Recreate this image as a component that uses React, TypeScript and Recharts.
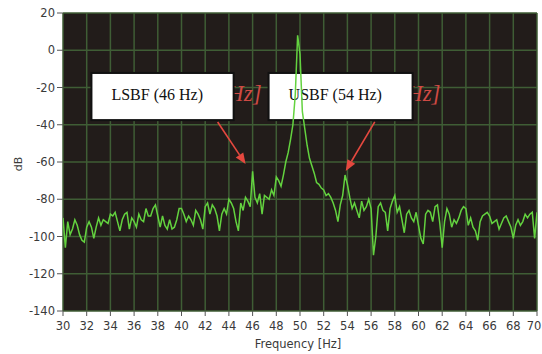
import React from 'react';
import { LineChart, Line, XAxis, YAxis, CartesianGrid, ReferenceArea, ReferenceLine } from 'recharts';

// Spectrum sampled every 0.2 Hz from 30 Hz to 70 Hz (dB)
const freqStart = 30;
const freqStep = 0.2;
const amplitudeDb = [
  -90, -106, -92, -99, -96, -91, -94, -99, -102, -103,
  -95, -92, -95, -101, -95, -90, -94, -91, -92, -93,
  -88, -89, -87, -92, -97, -91, -88, -87, -96, -90,
  -92, -95, -88, -91, -92, -85, -89, -89, -85, -83,
  -89, -95, -89, -94, -96, -91, -96, -95, -91, -85,
  -85, -88, -92, -89, -91, -94, -86, -88, -91, -96,
  -84, -82, -88, -83, -85, -89, -97, -88, -85, -88,
  -80, -82, -85, -92, -97, -82, -86, -79, -81, -84,
  -65, -79, -82, -77, -88, -78, -79, -80, -75, -78,
  -68, -70, -73, -67, -60, -55, -48, -40, -24, 8,
  -2, -33, -42, -51, -58, -62, -66, -71, -72, -74,
  -75, -78, -77, -79, -82, -86, -92, -83, -78, -67,
  -72, -79, -85, -82, -86, -90, -81, -86, -84, -80,
  -85, -110, -100, -84, -82, -86, -87, -97, -85, -81,
  -78, -87, -84, -91, -98, -88, -86, -90, -92, -87,
  -94, -101, -104, -88, -86, -87, -92, -84, -83, -93,
  -106, -92, -85, -88, -95, -91, -93, -90, -86, -84,
  -85, -94, -90, -95, -97, -102, -92, -89, -88, -87,
  -89, -93, -92, -91, -96, -93, -90, -89, -92, -95,
  -101, -94, -91, -94, -92, -88, -90, -88, -87, -101,
  -87,
];

const xTicks = [30, 32, 34, 36, 38, 40, 42, 44, 46, 48, 50, 52, 54, 56, 58, 60, 62, 64, 66, 68, 70];
const yTicks = [-140, -120, -100, -80, -60, -40, -20, 0, 20];

const boxLabels = ['LSBF (46 Hz)', 'USBF (54 Hz)'];
const boxFreqRanges = [[32.4, 44.4], [47.35, 59.5]];
const boxDbRange = [-37.5, -12.2];
const arrowStarts = [[43.05, -38.5], [56.31, -38.5]];
const arrowEnds = [[45.41, -61.1], [53.86, -64.8]];

const data = amplitudeDb.map((v, i) => ({ f: +(freqStart + i * freqStep).toFixed(1), db: v }));

const tickStyle = { fill: '#3a3a3a', fontSize: 11.5, fontFamily: 'DejaVu Sans' };

const XTick = (p: any) => {
  const { x, y, payload } = p;
  const tx = Math.min(x, 534);
  return (
    <text x={tx} y={y} dy="0.71em" textAnchor="middle" fill="#3a3a3a" fontSize={11.5} fontFamily="DejaVu Sans">
      {payload.value}
    </text>
  );
};

const Arrow = (p: any) => {
  const { x1, y1, x2, y2 } = p;
  const ang = Math.atan2(y2 - y1, x2 - x1);
  const len = 11;
  const hw = 4.5;
  const bx = x2 - len * Math.cos(ang);
  const by = y2 - len * Math.sin(ang);
  const px = -Math.sin(ang) * hw;
  const py = Math.cos(ang) * hw;
  return (
    <g>
      <line x1={x1} y1={y1} x2={bx} y2={by} stroke="#e5483f" strokeWidth={1.6} />
      <polygon points={`${x2},${y2} ${bx + px},${by + py} ${bx - px},${by - py}`} fill="#e5483f" />
    </g>
  );
};

const makeBox = (label: string) => (p: any) => {
  const { x, y, width, height } = p;
  return (
    <g>
      <text x={x + width + 28} y={y + 28} textAnchor="end" fill="#cf4a44" fontFamily="Liberation Serif" fontStyle="italic" fontSize={23}>Hz]</text>
      <rect x={x} y={y} width={width} height={height} fill="#ffffff" stroke="#111111" strokeWidth={2} />
      <text x={x + 20} y={y + 27} fill="#111111" fontFamily="Liberation Serif" fontSize={16}>{label}</text>
    </g>
  );
};

export default function App() {
  return (
    <div style={{ position: 'absolute', left: 0, top: 0, width: 542, height: 354, background: '#ffffff' }}>
      <LineChart width={542} height={354} data={data} margin={{ top: 13, right: 5, left: 18, bottom: 0 }}>
        <CartesianGrid stroke="#3f5d35" strokeWidth={1.5} fill="#221c1a" fillOpacity={1} />
        <XAxis
          dataKey="f"
          type="number"
          domain={[30, 70]}
          ticks={xTicks}
          interval={0}
          height={43}
          tickSize={5}
          tickMargin={6}
          axisLine={false}
          tickLine={{ stroke: '#555555' }}
          tick={<XTick />}
          allowDataOverflow
          label={{
            content: (props: any) => {
              const vb = props.viewBox;
              return (
                <text x={vb.x + vb.width / 2 - 2} y={vb.y + 37} textAnchor="middle" fill="#3a3a3a" fontSize={11.5} fontFamily="DejaVu Sans">
                  Frequency [Hz]
                </text>
              );
            },
          }}
        />
        <YAxis
          type="number"
          domain={[-140, 20]}
          ticks={yTicks}
          interval={0}
          width={45}
          tickSize={6}
          tickMargin={2}
          axisLine={false}
          tickLine={{ stroke: '#555555' }}
          tick={tickStyle}
          allowDataOverflow
          label={{
            content: (props: any) => {
              const vb = props.viewBox;
              const cx = vb.x;
              const cy = vb.y + vb.height / 2 + 2;
              return (
                <text x={cx} y={cy} transform={`rotate(-90 ${cx} ${cy})`} textAnchor="middle" dominantBaseline="central" fill="#3a3a3a" fontSize={11} fontFamily="DejaVu Sans">
                  dB
                </text>
              );
            },
          }}
        />
        <Line type="linear" dataKey="db" stroke="#63d23f" strokeWidth={1.5} dot={false} isAnimationActive={false} />
        {boxLabels.map((lbl, i) => (
          <ReferenceArea
            key={lbl}
            x1={boxFreqRanges[i][0]}
            x2={boxFreqRanges[i][1]}
            y1={boxDbRange[0]}
            y2={boxDbRange[1]}
            shape={makeBox(lbl)}
          />
        ))}
        {arrowStarts.map((s, i) => (
          <ReferenceLine
            key={`arrow-${i}`}
            segment={[{ x: s[0], y: s[1] }, { x: arrowEnds[i][0], y: arrowEnds[i][1] }]}
            shape={Arrow}
          />
        ))}
      </LineChart>
    </div>
  );
}
